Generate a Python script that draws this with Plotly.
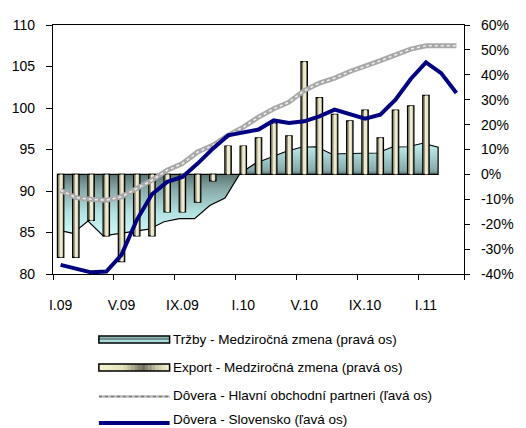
import plotly.graph_objects as go

# ---------------- data ----------------
months = ["I.09", "II.09", "III.09", "IV.09", "V.09", "VI.09", "VII.09", "VIII.09", "IX.09",
          "X.09", "XI.09", "XII.09", "I.10", "II.10", "III.10", "IV.10", "V.10", "VI.10",
          "VII.10", "VIII.10", "IX.10", "X.10", "XI.10", "XII.10", "I.11", "II.11", "III.11"]
tick_labels = ["I.09", "V.09", "IX.09", "I.10", "V.10", "IX.10", "I.11"]

# right axis (%)
trzby = [-22.3, -23.7, -18.7, -24.7, -23.7, -23.0, -22.0, -19.0, -17.8, -17.8, -12.5, -9.5,
         0.5, 4.5, 6.8, 9.2, 10.9, 11.1, 8.2, 8.5, 8.5, 8.6, 11.0, 11.1, 12.5, 10.9]
export = [-33.3, -33.3, -18.5, -24.7, -35.0, -24.7, -24.7, -15.1, -15.1, -11.1, -2.6, 11.4,
          11.4, 14.7, 20.5, 15.5, 45.3, 30.8, 24.1, 21.5, 25.8, 14.7, 25.8, 27.5, 31.7]
# left axis
partneri = [90.1, 89.2, 89.0, 88.9, 89.3, 90.3, 91.3, 92.5, 93.3, 94.7, 95.5, 96.7, 97.7, 98.9,
            99.9, 100.7, 102.1, 103.0, 103.6, 104.4, 105.0, 105.7, 106.4, 107.1, 107.5, 107.5, 107.5]
slovensko = [81.1, 80.7, 80.2, 80.3, 82.3, 86.5, 89.6, 91.1, 91.7, 93.3, 95.1, 96.7, 97.1, 97.4,
             98.5, 98.2, 98.4, 99.0, 99.8, 99.3, 98.7, 99.2, 101.0, 103.5, 105.5, 104.2, 101.8]

left_ticks = [80, 85, 90, 95, 100, 105, 110]
right_ticks = [-40, -30, -20, -10, 0, 10, 20, 30, 40, 50, 60]
right_tick_labels = ["-40%", "-30%", "-20%", "-10%", "0%", "10%", "20%", "30%", "40%", "50%", "60%"]

series_names = ["Tržby - Medziročná zmena (pravá os)",
                "Export - Medziročná zmena (pravá os)",
                "Dôvera - Hlavní obchodní partneri (ľavá os)",
                "Dôvera - Slovensko (ľavá os)"]

# ---------------- layout constants ----------------
W, H = 526, 428
L, R, T, B = 49, 47, 25, 154
PW, PH = W - L - R, H - T - B
FONT = "Liberation Sans, Arial, sans-serif"
AREA_SHIFT = -0.2
PCT_RANGE = [-40, 60]

idx = list(range(len(months)))
tick_idx = [months.index(t) for t in tick_labels]
boundaries = [i - 0.5 for i in tick_idx] + [len(months) - 0.5]

def px(xp):
    return (xp - L) / PW

def py(yp):
    return (T + PH - yp) / PH

fig = go.Figure()

# area (Tržby) as closed polygon around zero -> bottom layer (y)
ax = [i + AREA_SHIFT for i in idx[:len(trzby)]]
poly_x = [ax[0]] + ax + [ax[-1], ax[0]]
poly_y = [0] + trzby + [0, 0]
fig.add_trace(go.Scatter(
    x=poly_x, y=poly_y, yaxis="y", mode="lines", fill="toself",
    line=dict(color="black", width=1.2),
    fillgradient=dict(type="vertical", start=-25, stop=13,
                      colorscale=[[0.0, "#d2fbfb"], [0.26, "#b2e0e0"], [0.5, "#88aaa8"],
                                  [0.658, "#5c7472"], [0.70, "#86aaaa"], [1.0, "#c8f6f6"]]),
    name=series_names[0], showlegend=False, hoverinfo="skip"))

# export bars (outer dark + inner light to mimic gradient) -> middle layer (y2)
fig.add_trace(go.Bar(
    x=idx[:len(export)], y=export, yaxis="y2", width=0.42,
    marker=dict(color="#8e8b70", line=dict(color="black", width=1.2)),
    name=series_names[1], showlegend=False))
fig.add_trace(go.Bar(
    x=[i + 0.03 for i in idx[:len(export)]], y=export, yaxis="y2", width=0.2,
    marker=dict(color="#ecead0", line=dict(width=0)),
    showlegend=False, hoverinfo="skip"))

# lines -> top layer (y3, left axis)
fig.add_trace(go.Scatter(
    x=idx, y=partneri, yaxis="y3", mode="lines", line=dict(color="#a8a8a8", width=5),
    name=series_names[2], showlegend=False))
fig.add_trace(go.Scatter(
    x=idx, y=partneri, yaxis="y3", mode="lines",
    line=dict(color="#ececec", width=1.6, dash="dot"),
    showlegend=False, hoverinfo="skip"))
fig.add_trace(go.Scatter(
    x=idx, y=slovensko, yaxis="y3", mode="lines", line=dict(color="#000080", width=4),
    name=series_names[3], showlegend=False))

# ---------------- custom legend ----------------
shapes = []
annotations = []
lx0, lx1 = 97, 171
# Tržby swatch
shapes.append(dict(type="rect", xref="paper", yref="paper", x0=px(lx0), x1=px(lx1),
                   y0=py(343), y1=py(336), fillcolor="#a8dede", line=dict(width=0)))
shapes.append(dict(type="rect", xref="paper", yref="paper", x0=px(lx0), x1=px(lx1),
                   y0=py(340), y1=py(337.5), fillcolor="#6f8e8c", line=dict(width=0)))
shapes.append(dict(type="rect", xref="paper", yref="paper", x0=px(lx0), x1=px(lx1),
                   y0=py(343), y1=py(336), fillcolor="rgba(0,0,0,0)",
                   line=dict(color="black", width=1.5)))
# Export swatch: horizontal gradient slices
stops = [(0.0, (246, 244, 204)), (0.35, (228, 226, 184)), (0.62, (110, 108, 92)),
         (0.82, (200, 198, 166)), (1.0, (246, 244, 204))]
def interp(f):
    for (f0, c0), (f1, c1) in zip(stops[:-1], stops[1:]):
        if f0 <= f <= f1:
            t = (f - f0) / (f1 - f0)
            return "rgb(%d,%d,%d)" % tuple(round(a + (b - a) * t) for a, b in zip(c0, c1))
    return "rgb(246,244,204)"
n = 20
for k in range(n):
    a = lx0 + (lx1 - lx0) * k / n
    b = lx0 + (lx1 - lx0) * (k + 1) / n
    shapes.append(dict(type="rect", xref="paper", yref="paper", x0=px(a), x1=px(b + 0.3),
                       y0=py(371), y1=py(364), fillcolor=interp((k + 0.5) / n),
                       line=dict(width=0)))
shapes.append(dict(type="rect", xref="paper", yref="paper", x0=px(lx0), x1=px(lx1),
                   y0=py(371), y1=py(364), fillcolor="rgba(0,0,0,0)",
                   line=dict(color="black", width=1.5)))
# gray line swatch
shapes.append(dict(type="line", xref="paper", yref="paper", x0=px(lx0), x1=px(lx1),
                   y0=py(396.5), y1=py(396.5), line=dict(color="#bdbdbd", width=2.5)))
shapes.append(dict(type="line", xref="paper", yref="paper", x0=px(lx0), x1=px(lx1),
                   y0=py(396.5), y1=py(396.5), line=dict(color="#7c7c7c", width=1.5, dash="dot")))
# navy swatch
shapes.append(dict(type="line", xref="paper", yref="paper", x0=px(lx0), x1=px(lx1),
                   y0=py(423), y1=py(423), line=dict(color="#000080", width=4)))

for name, yc in zip(series_names, [339.5, 367.5, 395.5, 419.5]):
    annotations.append(dict(text=name, xref="paper", yref="paper", x=px(172), y=py(yc),
                            xanchor="left", yanchor="middle", showarrow=False,
                            font=dict(family=FONT, size=13.5, color="black")))

axis_common = dict(showgrid=False, zeroline=False)

fig.update_layout(
    width=W, height=H, margin=dict(l=L, r=R, t=T, b=B),
    paper_bgcolor="white", plot_bgcolor="white",
    font=dict(family=FONT, size=14, color="black"),
    barmode="overlay", showlegend=False,
    shapes=shapes, annotations=annotations,
    xaxis=dict(range=[-0.5, len(months) - 0.5], tickmode="array", tickvals=tick_idx,
               ticktext=tick_labels, ticks="", showline=True, linecolor="black",
               linewidth=1.2, mirror=True, ticklabelstandoff=18,
               minor=dict(tickmode="array", tickvals=boundaries, ticks="outside",
                          ticklen=5, tickcolor="black", tickwidth=1.2, showgrid=False),
               **axis_common),
    # right percentage axis (area layer)
    yaxis=dict(range=PCT_RANGE, side="right", tickmode="array", tickvals=right_ticks,
               ticktext=right_tick_labels, ticks="outside", ticklen=5, tickcolor="black",
               tickwidth=1.2, showline=True, linecolor="black", linewidth=1.2,
               ticklabelstandoff=8, **axis_common),
    # hidden percentage axis (bar layer)
    yaxis2=dict(range=PCT_RANGE, overlaying="y", side="right", visible=False, **axis_common),
    # left index axis (line layer)
    yaxis3=dict(range=[80, 110], overlaying="y", side="left", tickmode="array",
                tickvals=left_ticks, ticks="outside", ticklen=6, tickcolor="black",
                tickwidth=1.2, showline=True, linecolor="black", linewidth=1.2,
                ticklabelstandoff=8, **axis_common),
)

fig.write_html("out.html", config={"displayModeBar": False},
               post_script="document.body.style.margin='0px';")
